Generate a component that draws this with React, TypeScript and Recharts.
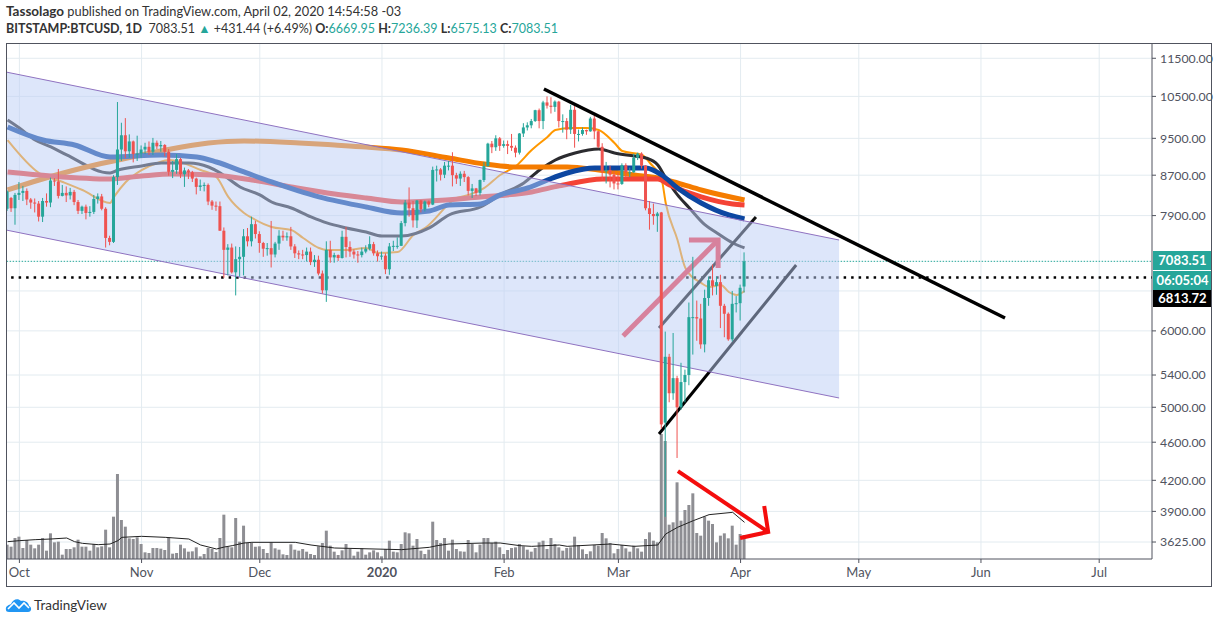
import { Area, Bar, CartesianGrid, ComposedChart, Line, XAxis, YAxis } from 'recharts';

const firstDay = -3; // Sep 28 2019, day 0 is Oct 1

const opens = [
  8030, 8240, 8040, 8300, 8340, 8380, 8210, 8150, 8130, 7880, 8180, 8150, 8590, 8570, 8280, 8340, 8290, 8360, 8160, 7990,
  8070, 7950, 7970, 8220, 8270, 8030, 7490, 7420, 8660, 9250, 9570, 9210, 9430, 9150, 9160, 9250, 9310, 9200, 9400, 9320,
  9350, 9200, 8770, 8810, 9040, 8720, 8800, 8760, 8630, 8460, 8490, 8500, 8170, 8090, 8080, 7620, 7280, 7320, 6900, 7120,
  7160, 7520, 7430, 7740, 7560, 7400, 7300, 7310, 7200, 7390, 7530, 7500, 7520, 7340, 7220, 7200, 7190, 7250, 7070, 7110,
  6880, 6610, 7280, 7150, 7190, 7140, 7510, 7330, 7250, 7200, 7190, 7250, 7300, 7380, 7220, 7170, 7180, 6950, 7340, 7350,
  7350, 7760, 8150, 8040, 7810, 8190, 8020, 8170, 8110, 8810, 8820, 8710, 8900, 8900, 8700, 8630, 8730, 8660, 8380, 8430,
  8340, 8600, 8890, 9380, 9300, 9500, 9330, 9370, 9330, 9290, 9180, 9610, 9750, 9800, 9900, 10160, 9900, 10350, 10270, 10240,
  10370, 9900, 9900, 9700, 10170, 9600, 9600, 9690, 9660, 9960, 9660, 9310, 8780, 8810, 8710, 8530, 8520, 8910, 8760, 8760,
  9070, 9160, 8900, 8040, 7930, 7890, 7960, 4820, 5640, 5170, 5360, 5000, 5310, 5400, 6200, 6200, 6180, 5810, 6490, 6770,
  6680, 6740, 6370, 6250, 5880, 6400, 6410, 6669.95,
];
const highs = [
  8390, 8260, 8340, 8560, 8480, 8430, 8240, 8230, 8180, 8240, 8330, 8650, 8640, 8830, 8500, 8470, 8440, 8400, 8200, 8090,
  8110, 8080, 8300, 8330, 8320, 8060, 7530, 8700, 10360, 9860, 9970, 9590, 9450, 9560, 9340, 9400, 9430, 9510, 9450, 9440,
  9370, 9260, 9000, 9150, 9070, 8860, 8830, 8790, 8650, 8610, 8550, 8530, 8200, 8170, 8170, 7680, 7380, 7390, 7340, 7330,
  7650, 7670, 7880, 7800, 7610, 7420, 7400, 7800, 7420, 7630, 7620, 7590, 7690, 7380, 7270, 7280, 7320, 7320, 7190, 7180,
  6930, 7430, 7440, 7230, 7200, 7620, 7690, 7430, 7290, 7260, 7320, 7360, 7520, 7420, 7270, 7250, 7220, 7400, 7440, 7500,
  7800, 8200, 8450, 8180, 8200, 8200, 8190, 8190, 8880, 8900, 8850, 8980, 9000, 9190, 8750, 8780, 8790, 8680, 8520, 8440,
  8610, 8980, 9400, 9440, 9570, 9530, 9450, 9450, 9600, 9340, 9620, 9850, 9870, 9950, 10170, 10200, 10390, 10500, 10480, 10400,
  10390, 10060, 9970, 10290, 10260, 9700, 9750, 9700, 10000, 10020, 9670, 9390, 8980, 8900, 8780, 8750, 8950, 8950, 8860, 9160,
  9180, 9190, 8910, 8180, 8130, 7970, 7970, 5990, 5680, 5970, 5390, 5560, 5470, 6420, 7160, 6450, 6400, 6620, 6830, 7030,
  6830, 6860, 6400, 6270, 6600, 6520, 6700, 7236.39,
];
const lows = [
  7990, 7970, 7730, 8200, 8180, 8100, 8030, 7960, 7790, 7780, 8070, 8060, 8480, 8230, 8270, 8160, 8210, 8100, 7930, 7930,
  7830, 7880, 7930, 8130, 8000, 7320, 7360, 7400, 8500, 9000, 9060, 9070, 8970, 9000, 9070, 9150, 9130, 9130, 9260, 9200,
  9100, 8690, 8640, 8730, 8640, 8460, 8620, 8560, 8310, 8380, 8370, 8100, 8010, 7990, 7620, 6810, 6850, 6880, 6530, 6830,
  6850, 7340, 7340, 7480, 7230, 7160, 7180, 6980, 7150, 7280, 7440, 7440, 7280, 7140, 7120, 7120, 7080, 7020, 6990, 6850,
  6560, 6430, 7060, 7060, 7090, 7130, 7150, 7160, 7130, 7060, 7150, 7220, 7270, 7180, 7080, 7110, 6870, 6860, 7260, 7300,
  7350, 7700, 7880, 7680, 7670, 7960, 7980, 8060, 8100, 8570, 8590, 8640, 8800, 8470, 8520, 8480, 8560, 8290, 8240, 8280,
  8290, 8560, 8880, 9170, 9220, 9220, 9290, 9150, 9220, 9080, 9140, 9530, 9680, 9730, 9880, 9730, 9710, 10200, 10080, 10120,
  9750, 9630, 9480, 9600, 9290, 9430, 9560, 9580, 9650, 9480, 9280, 8600, 8530, 8450, 8410, 8410, 8500, 8650, 8660, 8750,
  9020, 8840, 8000, 7640, 7730, 7600, 4750, 3850, 5060, 5090, 4430, 4970, 5060, 5270, 5670, 5860, 5750, 5700, 6370, 6530,
  6540, 6040, 5910, 5860, 5850, 6270, 6150, 6575.13,
];
const closes = [
  8370, 8040, 8300, 8340, 8380, 8210, 8150, 8130, 7880, 8180, 8150, 8590, 8570, 8280, 8340, 8290, 8360, 8160, 7990, 8070,
  7950, 7970, 8220, 8270, 8030, 7490, 7420, 8660, 9250, 9570, 9210, 9430, 9150, 9160, 9250, 9310, 9200, 9400, 9320, 9350,
  9200, 8770, 8810, 9040, 8720, 8800, 8760, 8630, 8460, 8490, 8500, 8170, 8090, 8080, 7620, 7280, 7320, 6900, 7120, 7160,
  7520, 7430, 7740, 7560, 7400, 7300, 7310, 7200, 7390, 7530, 7500, 7520, 7340, 7220, 7200, 7190, 7250, 7070, 7110, 6880,
  6610, 7280, 7150, 7190, 7140, 7510, 7330, 7250, 7200, 7190, 7250, 7300, 7380, 7220, 7170, 7180, 6950, 7340, 7350, 7350,
  7760, 8150, 8040, 7810, 8190, 8020, 8170, 8110, 8810, 8820, 8710, 8900, 8900, 8700, 8630, 8730, 8660, 8380, 8430, 8340,
  8600, 8890, 9380, 9300, 9500, 9330, 9370, 9330, 9290, 9180, 9610, 9750, 9800, 9900, 10160, 9900, 10350, 10270, 10240, 10370,
  9900, 9900, 9700, 10170, 9600, 9600, 9690, 9660, 9960, 9660, 9310, 8780, 8810, 8710, 8530, 8520, 8910, 8760, 8760, 9070,
  9160, 8900, 8040, 7930, 7890, 7940, 4800, 5640, 5170, 5360, 5000, 5310, 5400, 6200, 6200, 6180, 5810, 6490, 6770, 6680,
  6740, 6370, 6250, 5880, 6400, 6410, 6650, 7083.51,
];
const volumes = [
  43, 37, 63, 67, 33, 57, 43, 32, 43, 63, 25, 77, 50, 52, 13, 30, 30, 35, 58, 37,
  37, 25, 45, 35, 38, 88, 35, 127, 255, 117, 97, 62, 60, 65, 45, 20, 18, 33, 33, 31,
  27, 65, 16, 18, 43, 32, 22, 23, 35, 8, 15, 33, 30, 21, 63, 133, 37, 35, 123, 52,
  100, 48, 48, 37, 38, 30, 18, 50, 32, 28, 14, 12, 44, 28, 25, 30, 22, 15, 12, 38,
  48, 85, 40, 22, 12, 26, 45, 30, 10, 22, 32, 13, 20, 26, 20, 8, 30, 55, 22, 20,
  45, 80, 77, 40, 60, 25, 15, 28, 112, 57, 48, 63, 25, 58, 30, 23, 22, 57, 45, 20,
  43, 63, 63, 48, 52, 35, 15, 27, 33, 35, 45, 38, 28, 22, 33, 50, 55, 30, 63, 45,
  35, 25, 33, 35, 67, 42, 29, 15, 23, 42, 40, 78, 62, 48, 17, 30, 42, 32, 22, 40,
  32, 22, 60, 80, 55, 50, 375, 354, 103, 110, 230, 115, 147, 162, 197, 78, 70, 127, 115, 105,
  50, 70, 77, 62, 100, 43, 75, 72,
];

const volumeAverage = [
  [-3, 52], [0, 55], [4, 58], [8, 60], [12, 63], [14, 52], [16, 47], [20, 43], [23, 45], [25, 55], [26, 65], [31, 68],
  [37, 65], [43, 60], [46, 42], [50, 30], [52, 36], [54, 40], [57, 48], [59, 50], [70, 50], [74, 42], [80, 33], [97, 28],
  [104, 35], [106, 40], [109, 45], [118, 48], [122, 48], [127, 40], [130, 38], [137, 42], [139, 38], [150, 45], [156, 38],
  [162, 42], [164, 75], [167, 95], [171, 115], [175, 133], [181, 140], [184, 110],
];

const fastAverage = [
  [-3, 9462], [5, 8746], [11, 8560], [16, 8398], [23, 8142], [24, 8260], [27, 8560], [31, 8808], [35, 8957], [38, 9021],
  [46, 8808], [50, 8663], [53, 8260], [57, 7950], [59, 7856], [64, 7689], [69, 7633], [72, 7489], [76, 7313], [78, 7278],
  [83, 7278], [88, 7313], [91, 7226], [96, 7243], [100, 7543], [103, 7671], [111, 8240], [114, 8300], [118, 8439], [122, 8704],
  [126, 8893], [130, 9239], [134, 9532], [136, 9690], [140, 9738], [144, 9738], [147, 9690], [151, 9395], [153, 9217], [158, 9130],
  [160, 8957], [163, 8601], [164, 8142], [167, 7453], [169, 6971], [173, 6727], [175, 6663], [178, 6695], [180, 6583], [182, 6537],
  [184, 6599],
];
const midAverage = [
  [-3, 9925], [0, 9738], [4, 9462], [8, 9306], [12, 9130], [23, 8746], [25, 8808], [31, 8893], [36, 8957], [43, 8957],
  [48, 8872], [51, 8746], [56, 8459], [61, 8300], [64, 8161], [69, 8045], [74, 7875], [78, 7763], [83, 7671], [88, 7597],
  [92, 7525], [97, 7525], [104, 7671], [109, 7912], [117, 8064], [122, 8300], [128, 8540], [132, 8808], [136, 9021], [141, 9173],
  [147, 9262], [151, 9173], [156, 9108], [159, 9065], [162, 8915], [164, 8643], [167, 8300], [170, 8045], [174, 7726], [177, 7579],
  [181, 7400], [184, 7313],
];
const blueAverage = [
  [-3, 9761], [6, 9462], [14, 9350], [23, 9086], [36, 9130], [45, 9086], [50, 8978], [57, 8767], [64, 8560], [76, 8260],
  [88, 8064], [97, 7950], [104, 7988], [109, 8103], [117, 8122], [122, 8300], [129, 8439], [134, 8601], [139, 8746], [146, 8851],
  [152, 8851], [159, 8851], [163, 8704], [167, 8439], [173, 8142], [180, 7912], [184, 7837],
];
const redAverage = [
  [-3, 8767], [8, 8684], [23, 8622], [31, 8684], [39, 8725], [49, 8704], [59, 8601], [69, 8459], [80, 8319], [88, 8240],
  [97, 8161], [117, 8260], [130, 8359], [137, 8480], [148, 8622], [156, 8622], [162, 8622], [165, 8500], [173, 8260], [181, 8122],
  [184, 8103],
];
const orangeAverage = [
  [-3, 8398], [5, 8601], [16, 8851], [25, 9021], [37, 9239], [48, 9395], [57, 9440], [71, 9395], [80, 9350], [88, 9306],
  [97, 9239], [109, 9065], [118, 8936], [126, 8872], [139, 8872], [147, 8808], [156, 8704], [162, 8643], [167, 8540], [173, 8398],
  [184, 8200],
];

// drawings, each as [day, price] pairs
const channelLow = [[-3.4, 7633], [208, 5112]];
const channelHigh = [[-3.4, 11129], [208, 7453]];
const resistance = [[133.1, 10686], [250.1, 6187]];
const wedgeUpper = [[162.3, 6041], [186.9, 7874]];
const wedgeLower = [[162.3, 4691], [197.1, 7021]];
const pinkArrow = [[153.2, 5926], [177.3, 7453]];
const pinkHead = [[169.9, 7453], [177.3, 7453], [177.3, 6971]];
const redArrow = [[167.1, 4294], [190, 3713]];
const redHead = [[189, 3950], [190, 3713], [182.9, 3660]];

const lastPrice = 7083.51;
const markedPrice = 6813.72;

const priceTicks = [3625, 3900, 4200, 4600, 5000, 5400, 6000, 7900, 8700, 9500, 10500, 11500];
const gridPrices = [3625, 3900, 4200, 4600, 5000, 5400, 6000, 6600, 7900, 8700, 9500, 10500, 11500];
const monthDays = [0, 31, 61, 92, 123, 152, 183, 213, 244, 274];
const monthLabels = ['Oct', 'Nov', 'Dec', '2020', 'Feb', 'Mar', 'Apr', 'May', 'Jun', 'Jul'];

const UP = '#26a69a';
const DOWN = '#ef5350';
const TEXT = '#50535e';
const FONT = 'Lato, "Noto Sans", sans-serif';

const rows = opens.map((open, i) => ({
  day: firstDay + i,
  open,
  close: closes[i],
  range: [lows[i], highs[i]],
  volume: volumes[i],
}));
const points = (pairs: number[][]) => pairs.map(([day, value]) => ({ day, value }));
const bandRows = channelLow.map(([day, low], i) => ({ day, band: [low, channelHigh[i][1]] }));
const flat = (value: number) => [{ day: -4, value }, { day: 288, value }];

// body and wick inside the low-high box the Bar gets from the log scale
function Candle(props: any) {
  const { x, y, width, height, payload } = props;
  const [low, high] = payload.range;
  const span = Math.log(high / low);
  const at = (v: number) => y + (height * Math.log(high / v)) / span;
  const top = at(Math.max(payload.open, payload.close));
  const bottom = at(Math.min(payload.open, payload.close));
  const color = payload.close >= payload.open ? UP : DOWN;
  return (
    <g>
      <rect x={x + width / 2 - 0.5} y={y} width={1} height={height} fill={color} />
      <rect x={x} y={top} width={width} height={Math.max(bottom - top, 1)} fill={color} />
    </g>
  );
}

function MonthTick(props: any) {
  const { x, y, payload } = props;
  const label = monthLabels[monthDays.indexOf(payload.value)];
  const isYear = label === '2020';
  return (
    <text x={x} y={y + 12} textAnchor="middle" fontSize={13} fontFamily={FONT} fontWeight={isYear ? 700 : 400} fill={TEXT}>
      {label}
    </text>
  );
}

function PriceTag({ top, height, bg, color, text }: { top: number; height: number; bg: string; color: string; text: string }) {
  return (
    <div
      style={{
        position: 'absolute',
        left: 1153,
        top,
        width: 59,
        height,
        lineHeight: `${height}px`,
        background: bg,
        color,
        fontSize: 13,
        fontWeight: 700,
        fontFamily: FONT,
        textAlign: 'center',
      }}
    >
      {text}
    </div>
  );
}

export default function App() {
  const drawn = (data: number[][], stroke: string, width: number, z: number, key: string) => (
    <Line
      key={key}
      xAxisId="main"
      yAxisId="price"
      data={points(data)}
      dataKey="value"
      stroke={stroke}
      strokeWidth={width}
      dot={false}
      zIndex={z}
      isAnimationActive={false}
    />
  );
  const average = (data: number[][], stroke: string, width: number, z: number, key: string) => (
    <Line
      key={key}
      xAxisId="main"
      yAxisId="price"
      type="monotone"
      data={points(data)}
      dataKey="value"
      stroke={stroke}
      strokeWidth={width}
      dot={false}
      zIndex={z}
      isAnimationActive={false}
    />
  );

  return (
    <div style={{ position: 'absolute', left: 0, top: 0, width: 1225, height: 624, background: '#fff', fontFamily: FONT, overflow: 'hidden' }}>
      <div style={{ position: 'absolute', left: 6, top: 3, fontSize: 12.8, color: '#333', whiteSpace: 'nowrap' }}>
        <b style={{ fontSize: 13.5 }}>Tassolago</b> published on TradingView.com, April 02, 2020 14:54:58 -03
      </div>
      <div style={{ position: 'absolute', left: 6, top: 21, fontSize: 12.5, color: '#333', whiteSpace: 'nowrap' }}>
        <b>BITSTAMP:BTCUSD, 1D</b> &nbsp;7083.51 <span style={{ color: UP }}>▲</span> +431.44 (+6.49%) <b>O:</b>
        <span style={{ color: UP }}>6669.95</span> <b>H:</b>
        <span style={{ color: UP }}>7236.39</span> <b>L:</b>
        <span style={{ color: UP }}>6575.13</span> <b>C:</b>
        <span style={{ color: UP }}>7083.51</span>
      </div>

      <ComposedChart
        width={1225}
        height={624}
        data={rows}
        margin={{ top: 43, right: 13, bottom: 37, left: 6 }}
        style={{ position: 'absolute', left: 0, top: 0 }}
      >
        <CartesianGrid xAxisId="main" yAxisId="price" stroke="#e3ebf0" horizontalValues={gridPrices} verticalValues={monthDays} />
        {/* bars on their own x axes: the drawings' fractional days would shrink the band size on the main one */}
        <XAxis xAxisId="vol" type="number" dataKey="day" domain={[-3.4, 287.4]} allowDataOverflow hide height={0} />
        <XAxis xAxisId="candle" type="number" dataKey="day" domain={[-3.4, 287.4]} allowDataOverflow hide height={0} />
        <XAxis
          xAxisId="main"
          type="number"
          dataKey="day"
          domain={[-3.4, 287.4]}
          allowDataOverflow
          ticks={monthDays}
          interval={0}
          height={28}
          tickSize={4}
          stroke={TEXT}
          tick={<MonthTick />}
        />
        <YAxis
          yAxisId="price"
          orientation="right"
          scale="log"
          domain={[3481, 11927]}
          allowDataOverflow
          ticks={priceTicks}
          interval={0}
          width={60}
          tickSize={4}
          tickMargin={4}
          stroke={TEXT}
          tick={{ fill: TEXT, fontSize: 12.3, fontFamily: FONT }}
          tickFormatter={(v: number) => v.toFixed(2)}
        />
        <YAxis yAxisId="volume" hide domain={[0, 1548]} />

        <Bar xAxisId="vol" yAxisId="volume" dataKey="volume" barSize={3} fill="#8e8e93" zIndex={1} isAnimationActive={false} />
        <Line
          xAxisId="main"
          yAxisId="volume"
          data={points(volumeAverage)}
          dataKey="value"
          stroke="#222"
          strokeWidth={1}
          dot={false}
          zIndex={2}
          isAnimationActive={false}
        />

        {average(fastAverage, '#ff9800', 2, 3, 'fast')}
        {average(midAverage, '#2b2b2f', 3, 4, 'mid')}
        {average(orangeAverage, '#f57c00', 5, 5, 'orange')}
        {average(redAverage, '#f44336', 5, 6, 'red')}
        {average(blueAverage, '#0d47a1', 5, 7, 'blue')}

        <Line
          xAxisId="main"
          yAxisId="price"
          data={flat(lastPrice)}
          dataKey="value"
          stroke={UP}
          strokeWidth={1}
          strokeDasharray="1.5 1.5"
          dot={false}
          zIndex={8}
          isAnimationActive={false}
        />
        <Line
          xAxisId="main"
          yAxisId="price"
          data={flat(markedPrice)}
          dataKey="value"
          stroke="#000"
          strokeWidth={2.5}
          strokeDasharray="2.5 5"
          dot={false}
          zIndex={8}
          isAnimationActive={false}
        />

        {drawn(wedgeUpper, '#111', 3, 9, 'wedgeUpper')}
        {drawn(wedgeLower, '#000', 3, 9, 'wedgeLower')}
        {drawn(pinkArrow, '#f23645', 5, 9, 'pinkArrow')}
        {drawn(pinkHead, '#f23645', 5, 9, 'pinkHead')}

        <Area
          xAxisId="main"
          yAxisId="price"
          data={bandRows}
          dataKey="band"
          fill="#bbcef5"
          fillOpacity={0.5}
          stroke="#8f72c0"
          strokeWidth={1}
          dot={false}
          zIndex={20}
          isAnimationActive={false}
        />

        <Bar xAxisId="candle" yAxisId="price" dataKey="range" barSize={3} shape={<Candle />} zIndex={30} isAnimationActive={false} />

        {drawn(resistance, '#000', 3.5, 40, 'resistance')}
        {drawn(redArrow, '#f40d0d', 4, 40, 'redArrow')}
        {drawn(redHead, '#f40d0d', 4, 40, 'redHead')}
      </ComposedChart>

      <PriceTag top={251} height={19} bg={UP} color="#fff" text="7083.51" />
      <PriceTag top={271} height={19} bg={UP} color="#fff" text="06:05:04" />
      <PriceTag top={290} height={17} bg="#000" color="#fff" text="6813.72" />

      <div style={{ position: 'absolute', left: 6, top: 43, width: 1206, height: 544, border: `1px solid ${TEXT}`, boxSizing: 'border-box', pointerEvents: 'none' }} />

      <svg width={28} height={16} style={{ position: 'absolute', left: 5, top: 597 }}>
        <path d="M1 13 C0 9 4 8 6 7 C8 2 13 1 16 4 C20 3 24 6 24 9 C27 10 27 15 23 15 L4 15 C2 15 1 14 1 13 Z" fill="#2196f3" />
        <path d="M3 12 L9 6 L14 11 L19 6 L24 11" fill="none" stroke="#fff" strokeWidth={1.6} />
      </svg>
      <div style={{ position: 'absolute', left: 34, top: 597, fontSize: 13.5, color: '#333' }}>TradingView</div>
    </div>
  );
}
